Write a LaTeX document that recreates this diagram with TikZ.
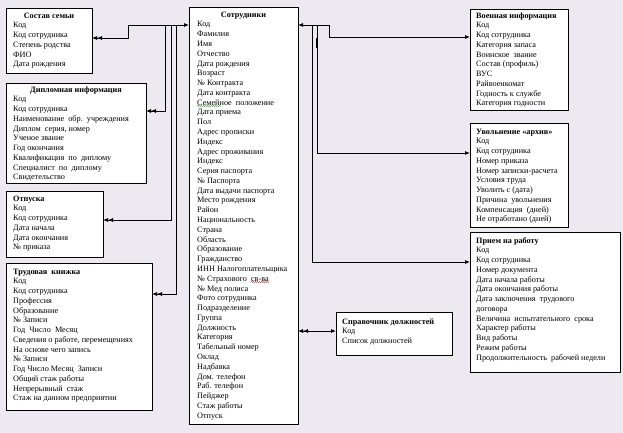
\documentclass[tikz,border=0pt]{standalone}
\usepackage{fontspec}
\setmainfont{Liberation Serif}
\usetikzlibrary{arrows.meta,decorations.pathmorphing}
\definecolor{bg}{RGB}{236,234,240}
\definecolor{spellgreen}{RGB}{40,150,40}
\definecolor{spellred}{RGB}{220,30,30}
\newcommand{\fsz}[1]{\fontsize{8.2}{#1}\selectfont\lineskiplimit=-20pt\relax}
\begin{document}
\begin{tikzpicture}[x=1pt,y=-1pt,
  >={Latex[length=5pt,width=4pt]},
  box/.style={draw, line width=0.8pt, fill=white, anchor=north west, inner sep=0pt, outer sep=0pt},
  ttl/.style={font=\fsz{9.75}\bfseries, inner sep=0pt, anchor=base},
  ttll/.style={font=\fsz{9.75}\bfseries, inner sep=0pt, anchor=base west},
  fld/.style={font=\fsz{9.75}, align=left, anchor=north west, inner sep=0pt},
  fldw/.style={font=\fsz{9.78}, align=left, anchor=north west, inner sep=0pt},
  conn/.style={line width=0.8pt},
  squig/.style={line width=0.5pt, decorate, decoration={snake, amplitude=0.5pt, segment length=2pt}}]
\fill[bg] (0,0) rectangle (623,433);
\useasboundingbox (0,0) rectangle (623,433);

% boxes
\node[box, minimum width=86pt, minimum height=65pt] (sostav) at (6,8) {};
\node[box, minimum width=140pt, minimum height=100pt] (diplom) at (6,83) {};
\node[box, minimum width=97pt, minimum height=66pt] (otpusk) at (6,191) {};
\node[box, minimum width=146pt, minimum height=147pt] (trud) at (6,263) {};
\node[box, minimum width=109pt, minimum height=417pt] (sotr) at (189,7) {};
\node[box, minimum width=116pt, minimum height=43pt] (sprav) at (336,312) {};
\node[box, minimum width=98pt, minimum height=101pt] (voen) at (470,9) {};
\node[box, minimum width=98pt, minimum height=104pt] (uvol) at (470,123) {};
\node[box, minimum width=150pt, minimum height=140pt] (priem) at (470,232) {};

% titles
\node[ttl] (sostavT) at (49,18.5) {Состав семьи};
\node[ttl] (diplomT) at (76,92.5) {Дипломная информация};
\node[ttll] (otpuskT) at (13,201.5) {Отпуска};
\node[ttll] (trudT) at (13,274.5) {Трудовая\ \ книжка};
\node[ttl] (sotrT) at (243.5,17.5) {Сотрудники};
\node[ttll] (spravT) at (342,324.5) {Справочник должностей};
\node[ttll] (voenT) at (476,18.5) {Военная информация};
\node[ttll] (uvolT) at (476,134.5) {Увольнение «архив»};
\node[ttll] (priemT) at (476,243.5) {Прием на работу};

% fields
\node[fld] (sostavF) at (13,20.9) {\strut Код\\Код сотрудника\\Степень родства\\ФИО\\Дата рождения};
\node[fld] (diplomF) at (13,94.9) {\strut Код\\Код сотрудника\\Наименование\ \ обр.\ \ учреждения\\Диплом\ \ серия, номер\\Ученое звание\\Год окончания\\Квалификация\ \ по\ \ диплому\\Специалист\ \ по\ \ диплому\\Свидетельство};
\node[fld] (otpuskF) at (13,203.9) {\strut Код\\Код сотрудника\\Дата начала\\Дата окончания\\№ приказа};
\node[fld] (trudF) at (13,276.9) {\strut Код\\Код сотрудника\\Профессия\\Образование\\№ Записи\\Год\ \ Число\ \ Месяц\\Сведения о работе, перемещениях\\На основе чего запись\\№ Записи\\Год Число Месяц\ \ Записи\\Общий стаж работы\\Непрерывный\ \ стаж\\Стаж на данном предприятии};
\node[fldw] (sotrF) at (197,19.9) {\strut Код\\Фамилия\\Имя\\Отчество\\Дата рождения\\Возраст\\№ Контракта\\Дата контракта\\Семейное\ \ положение\\Дата приема\\Пол\\Адрес прописки\\Индекс\\Адрес проживания\\Индекс\\Серия паспорта\\№ Паспорта\\Дата выдачи паспорта\\Место рождения\\Район\\Национальность\\Страна\\Область\\Образование\\Гражданство\\ИНН Налогоплательщика\\№ Страхового\ \ св-ва\\№ Мед полиса\\Фото сотрудника\\Подразделение\\Группа\\Должность\\Категория\\Табельный номер\\Оклад\\Надбавка\\Дом. телефон\\Раб. телефон\\Пейджер\\Стаж работы\\Отпуск};
\node[fld] (spravF) at (342,326.9) {\strut Код\\Список должностей};
\node[fld] (voenF) at (476,20.9) {\strut Код\\Код сотрудника\\Категория запаса\\Воинское\ \ звание\\Состав (профиль)\\ВУС\\Райвоенкомат\\Годность к службе\\Категория годности};
\node[fld] (uvolF) at (476,136.9) {\strut Код\\Код сотрудника\\Номер приказа\\Номер записки-расчета\\Условия труда\\Уволить с (дата)\\Причина\ \ увольнения\\Компенсация\ \ (дней)\\Не отработано (дней)};
\node[fld] (priemF) at (476,245.9) {\strut Код\\Код сотрудника\\Номер документа\\Дата начала работы\\Дата окончания работы\\Дата заключения\ \ трудового\\договора\\Величина\ \ испытательного\ \ срока\\Характер работы\\Вид работы\\Режим работы\\Продолжительность\ \ рабочей недели};

% spell-check marks
\draw[squig, spellgreen] (197,106) -- (221,106);
\draw[squig, spellred] (251,282) -- (269,282);

% bus coordinates
\coordinate (lb1) at (165,25);
\coordinate (lb2) at (171,25);
\coordinate (lb3) at (176,25);
\coordinate (rb1) at (329,25);
\coordinate (rb2) at (317,25);
\coordinate (rb3) at (312,25);

% left connectors
\draw[conn,<<->] (sostav.east |- 0,38) -- (128,38) -- (128,25) -- (sotr.west |- 0,25);
\draw[conn,<<-] (diplom.east |- 0,111) -| (lb1);
\draw[conn,<<-] (otpusk.east |- 0,220) -| (lb2);
\draw[conn,<<-] (trud.east |- 0,294) -| (lb3);

% right connectors
\draw[conn,<->] (sotr.east |- 0,25) -- (rb1) -- (329,37) -- (voen.west |- 0,37);
\draw[conn,->] (rb2) |- (uvol.west |- 0,153);
\draw[conn,->] (rb3) |- (priem.west |- 0,262);
\draw[line width=1.6pt] (317,38) -- (317,48);
\draw[conn,<<->] (sotr.east |- 0,331) -- (sprav.west |- 0,331);
\end{tikzpicture}
\end{document}
